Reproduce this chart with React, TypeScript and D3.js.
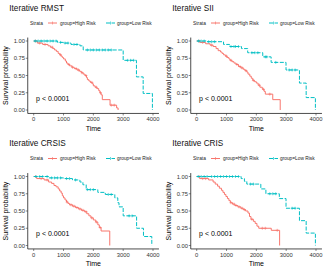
import * as d3 from "d3";

// ---- data ----
const panelTitles = ["Iterative RMST", "Iterative SII", "Iterative CRSIS", "Iterative CRIS"];
const strata = ["group=High Risk", "group=Low Risk"];
const xTicks = [0, 1000, 2000, 3000, 4000];
const yTicks = [0, 0.25, 0.5, 0.75, 1];
const pLabel = "p < 0.0001";

// step curves: time of each drop and survival after it
const rmstHighT = [0, 120, 300, 480, 560, 640, 700, 760, 820, 870, 920, 960, 1000, 1060, 1100, 1150, 1200, 1280, 1360, 1450, 1540, 1600, 1660, 1720, 1770, 1800, 1850, 1900, 1960, 2000, 2060, 2120, 2180, 2220, 2260, 2300, 2560, 2780, 2830];
const rmstHighS = [1, .97, .95, .93, .91, .89, .87, .85, .82, .80, .78, .76, .74, .71, .68, .66, .64, .62, .60, .58, .56, .54, .52, .50, .47, .44, .42, .40, .38, .35, .33, .31, .28, .25, .22, .15, .07, .03, 0];
const rmstLowT = [0, 800, 1000, 1250, 1550, 1660, 3000, 3445, 3670, 3980];
const rmstLowS = [1, .98, .97, .95, .93, .87, .72, .48, .24, 0];

const siiHighT = [0, 100, 300, 450, 550, 650, 720, 800, 850, 900, 960, 1020, 1080, 1120, 1180, 1250, 1320, 1400, 1480, 1560, 1620, 1680, 1720, 1780, 1830, 1880, 1940, 2000, 2060, 2120, 2200, 2260, 2300, 2550, 2800];
const siiHighS = [1, .98, .96, .94, .92, .89, .86, .84, .82, .80, .78, .76, .74, .72, .70, .68, .66, .63, .61, .59, .57, .55, .52, .49, .46, .43, .41, .39, .36, .33, .30, .27, .23, .15, 0];
const siiLowT = [0, 320, 900, 1100, 1500, 1710, 2215, 2495, 2995, 3445, 3670, 3980];
const siiLowS = [1, .99, .95, .92, .89, .83, .77, .69, .58, .39, .18, 0];

const crsisHighT = [0, 100, 350, 500, 600, 680, 750, 820, 870, 920, 960, 1000, 1050, 1100, 1150, 1200, 1300, 1400, 1500, 1600, 1700, 1780, 1850, 1920, 2000, 2080, 2150, 2200, 2260, 2550];
const crsisHighS = [1, .97, .95, .92, .90, .87, .85, .82, .79, .76, .72, .69, .66, .63, .61, .59, .57, .55, .53, .51, .49, .46, .43, .40, .37, .34, .30, .26, .21, 0];
const crsisLowT = [0, 500, 1000, 1300, 1550, 1650, 1760, 2150, 2400, 2720, 2820, 2860, 3000, 3450, 3680, 3960];
const crsisLowS = [1, .98, .97, .95, .92, .88, .81, .77, .74, .69, .62, .56, .43, .25, .13, 0];

const crisHighT = [0, 100, 400, 550, 620, 700, 760, 830, 880, 930, 980, 1030, 1080, 1130, 1200, 1280, 1380, 1480, 1560, 1640, 1720, 1770, 1820, 1900, 1960, 2020, 2080, 2500, 2780];
const crisHighS = [1, .97, .95, .92, .89, .86, .83, .80, .77, .74, .71, .68, .65, .62, .60, .58, .56, .54, .52, .50, .47, .42, .38, .35, .32, .28, .25, .22, 0];
const crisLowT = [0, 1490, 1600, 1680, 2150, 2320, 2770, 2995, 3445, 3670, 3980];
const crisLowS = [1, .97, .93, .89, .82, .75, .68, .54, .36, .18, 0];

// censoring times
const rmstHighC = [60, 200, 380, 620, 900, 1180, 1300, 1420, 1500, 1620, 1750, 1950, 2100, 2240, 2600, 2700];
const rmstLowC = [50, 150, 250, 350, 450, 550, 650, 750, 900, 1050, 1150, 1350, 1450, 1800, 1900, 2000, 2100, 2200, 2300, 2400, 2500, 2600, 3150, 3250, 3350];
const siiHighC = [80, 200, 500, 1000, 1150, 1350, 1450, 1520, 1650, 1900, 2100, 2240, 2450];
const siiLowC = [60, 150, 250, 400, 500, 600, 1150, 1250, 1300, 1400, 1850, 1950, 2050, 2300, 2350, 2650, 3100, 3200, 3300];
const crsisHighC = [60, 250, 450, 1120, 1250, 1350, 1450, 1550, 1650, 1750, 1950, 2100, 2230];
const crsisLowC = [80, 200, 300, 450, 600, 700, 800, 900, 1100, 1200, 1400, 1800, 1900, 2000, 2500, 2600, 3200, 3300];
const crisHighC = [80, 200, 300, 1150, 1250, 1320, 1420, 1520, 1600, 1850, 2200, 2300, 2700];
const crisLowC = [50, 150, 250, 350, 500, 600, 700, 800, 900, 1000, 1100, 1200, 1300, 1400, 1800, 1900, 2450, 2550, 2650, 3200, 3300];

const panels = [
  { high: [rmstHighT, rmstHighS, rmstHighC], low: [rmstLowT, rmstLowS, rmstLowC] },
  { high: [siiHighT, siiHighS, siiHighC], low: [siiLowT, siiLowS, siiLowC] },
  { high: [crsisHighT, crsisHighS, crsisHighC], low: [crsisLowT, crsisLowS, crsisLowC] },
  { high: [crisHighT, crisHighS, crisHighC], low: [crisLowT, crisLowS, crisLowC] },
];

const RED = "#F8766D";
const CYAN = "#00BFC4";
const FONT = "Liberation Sans, Arial, sans-serif";

const survAt = (T: number[], S: number[], t: number) => {
  let s = 1;
  for (let i = 0; i < T.length; i++) if (T[i] <= t) s = S[i];
  return s;
};

function Panel({ idx, ox, oy }: { idx: number; ox: number; oy: number }) {
  const p = panels[idx];
  const x = d3.scaleLinear().domain([0, 4000]).range([33.7, 153]);
  const y = d3.scaleLinear().domain([0, 1]).range([110, 41]);
  const x0 = x(-200), x1 = x(4200);
  const yb = y(-0.05), yt = y(1.05);

  const line = d3.line<[number, number]>()
    .x(d => x(d[0]))
    .y(d => y(d[1]))
    .curve(d3.curveStepAfter);

  const drawSeries = (ser: number[][], color: string, dash?: string) => {
    const [T, S, C] = ser;
    const pts: [number, number][] = T.map((t, i) => [t, S[i]]);
    const lastT = Math.max(T[T.length - 1], ...C);
    if (lastT > T[T.length - 1]) pts.push([lastT, S[S.length - 1]]);
    return (
      <g>
        <path d={line(pts) || ""} fill="none" stroke={color} strokeWidth={1} strokeDasharray={dash} />
        {C.map((c, i) => {
          const cx = x(c), cy = y(survAt(T, S, c));
          return (
            <path key={i} d={`M${cx - 1.5},${cy}H${cx + 1.5}M${cx},${cy - 1.5}V${cy + 1.5}`}
              stroke={color} strokeWidth={0.6} />
          );
        })}
      </g>
    );
  };

  return (
    <g transform={`translate(${ox},${oy})`} fontFamily={FONT}>
      <text x={9.3} y={10.6} fontSize={8.2} fill="#111">{panelTitles[idx]}</text>
      {/* legend */}
      <text x={30} y={24.6} fontSize={4.8} fill="#222">Strata</text>
      <line x1={48} x2={57} y1={23} y2={23} stroke={RED} strokeWidth={1} />
      <path d={`M52.5,21.5V24.5`} stroke={RED} strokeWidth={0.6} />
      <text x={60} y={24.6} fontSize={4.8} fill="#222">{strata[0]}</text>
      <line x1={106} x2={115} y1={23} y2={23} stroke={CYAN} strokeWidth={1} strokeDasharray="4,1.5" />
      <path d={`M110.5,21.5V24.5`} stroke={CYAN} strokeWidth={0.6} />
      <text x={117} y={24.6} fontSize={4.8} fill="#222">{strata[1]}</text>

      {drawSeries(p.high, RED)}
      {drawSeries(p.low, CYAN, "4,1.5")}

      {/* axes */}
      <line x1={x0} x2={x1} y1={yb} y2={yb} stroke="#000" strokeWidth={0.7} />
      <line x1={x0} x2={x0} y1={yt} y2={yb} stroke="#000" strokeWidth={0.7} />
      {xTicks.map(t => (
        <g key={t}>
          <line x1={x(t)} x2={x(t)} y1={yb} y2={yb + 2} stroke="#333" strokeWidth={0.6} />
          <text x={x(t)} y={yb + 7.8} fontSize={5.8} textAnchor="middle" fill="#333">{t}</text>
        </g>
      ))}
      {yTicks.map(t => (
        <g key={t}>
          <line x1={x0 - 2} x2={x0} y1={y(t)} y2={y(t)} stroke="#333" strokeWidth={0.6} />
          <text x={x0 - 2.8} y={y(t) + 2} fontSize={5.8} textAnchor="end" fill="#333">{d3.format(".2f")(t)}</text>
        </g>
      ))}
      <text x={(x0 + x1) / 2} y={130.5} fontSize={7} textAnchor="middle" fill="#000">Time</text>
      <text transform={`translate(8.3,${(yt + yb) / 2}) rotate(-90)`} fontSize={7} textAnchor="middle" fill="#000">Survival probability</text>
      <text x={x(80)} y={y(0.17) + 2.5} fontSize={7} fill="#000">{pLabel}</text>
    </g>
  );
}

export default function App() {
  const offsets = [[0, 0], [163, 0], [0, 135.5], [163, 135.5]];
  return (
    <svg width={326} height={271} style={{ position: "absolute", left: 0, top: 0, background: "#fff" }}>
      <rect width={326} height={271} fill="#fff" />
      {offsets.map(([ox, oy], i) => <Panel key={i} idx={i} ox={ox} oy={oy} />)}
    </svg>
  );
}
